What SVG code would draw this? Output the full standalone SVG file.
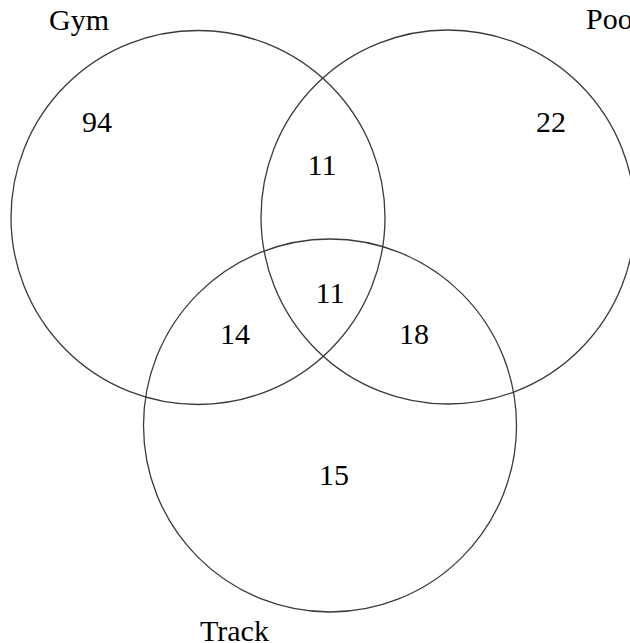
<svg xmlns="http://www.w3.org/2000/svg" width="630" height="643" viewBox="0 0 630 643">
<style>
.c{fill:none;stroke:#3a3a3a;stroke-width:1.3}
text{font-family:"Liberation Serif","Times New Roman",serif;font-size:30px;fill:#000}
.m{text-anchor:middle}
</style>
<rect width="630" height="643" fill="#fff"/>
<g id="gym"><circle class="c" cx="198" cy="217.5" r="187"/><text x="49" y="30">Gym</text></g>
<g id="pool"><circle class="c" cx="448" cy="217" r="187"/><text x="586" y="29">Pool</text></g>
<g id="track"><circle class="c" cx="330" cy="425.5" r="186.5"/><text x="200" y="641">Track</text></g>
<g id="labels">
<text class="m" x="97" y="132">94</text>
<text class="m" x="551" y="132">22</text>
<text class="m" x="322" y="175">11</text>
<text class="m" x="330" y="303">11</text>
<text class="m" x="235" y="344">14</text>
<text class="m" x="414" y="344">18</text>
<text class="m" x="334" y="485">15</text>
</g>
</svg>
